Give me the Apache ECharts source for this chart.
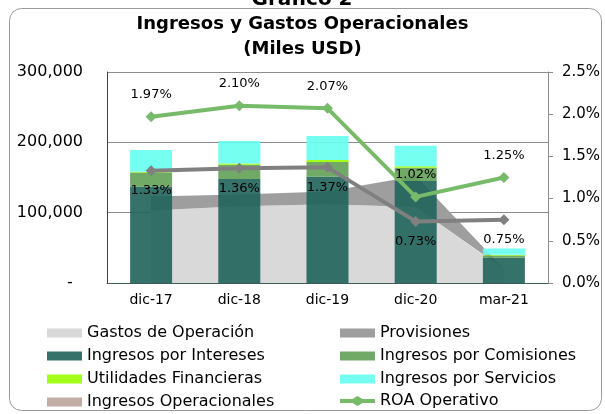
<!DOCTYPE html>
<html>
<head>
<meta charset="utf-8">
<script src="https://cdn.jsdelivr.net/npm/echarts@6/dist/echarts.min.js"></script>
<style>
  html, body { margin: 0; padding: 0; background: #fff; }
  #chart { width: 605px; height: 414px; }
</style>
</head>
<body>
<div id="chart"></div>
<script type="text/javascript">
  // Grafico 2 - Ingresos y Gastos Operacionales

  var categories = ['dic-17', 'dic-18', 'dic-19', 'dic-20', 'mar-21'];

  // Miles USD
  var gastosOperacion = [103000, 109000, 112000, 108000, 19000];
  var provisiones = [20000, 17000, 18000, 44000, 1000];
  var ingresosIntereses = [137000, 148000, 151000, 145000, 36000];
  var ingresosComisiones = [20000, 20000, 21000, 19000, 3000];
  var utilidadesFinancieras = [1000, 2000, 3000, 2000, 1000];
  var ingresosServicios = [31000, 32000, 34000, 29000, 9000];
  var ingresosOperacionales = [];

  // %
  var roaOperativo = [1.97, 2.10, 2.07, 1.02, 1.25];
  var serieGris = [1.33, 1.36, 1.37, 0.73, 0.75];

  var leftTicks = { min: 0, max: 300000, interval: 100000 };
  var rightTicks = { min: 0, max: 2.5, interval: 0.5 };

  // legend order: two columns, four rows
  var legendCol1 = ['Gastos de Operación', 'Ingresos por Intereses', 'Utilidades Financieras', 'Ingresos Operacionales'];
  var legendCol2 = ['Provisiones', 'Ingresos por Comisiones', 'Ingresos por Servicios', 'ROA Operativo'];

  var FONT = 'DejaVu Sans';
  // thick line with a diamond in the middle, like the Excel legend key
  var LINE_ICON = 'path://M0,3H12.5L17.5,0L22.5,3H35V7H22.5L17.5,10L12.5,7H0Z';

  var myChart = echarts.init(document.getElementById('chart'));

  function barSeries(name, data, color) {
    return {
      name: name,
      type: 'bar',
      stack: 'ingresos',
      barWidth: 42,
      z: 2,
      itemStyle: { color: color, opacity: 0.9 },
      data: data
    };
  }

  function areaSeries(name, data, color) {
    return {
      name: name,
      type: 'line',
      stack: 'gastos',
      z: 1,
      symbol: 'none',
      lineStyle: { width: 0 },
      itemStyle: { color: color },
      areaStyle: { color: color, opacity: 1 },
      data: data
    };
  }

  function pctLine(name, data, color, labelPos, dist) {
    return {
      name: name,
      type: 'line',
      yAxisIndex: 1,
      z: 5,
      symbol: 'diamond',
      symbolSize: 11,
      lineStyle: { width: 4, color: color },
      itemStyle: { color: color },
      label: {
        show: true,
        position: labelPos,
        distance: dist,
        color: '#000',
        fontFamily: FONT,
        fontSize: 13,
        formatter: function (p) { return p.value.toFixed(2) + '%'; }
      },
      data: data
    };
  }

  // one legend per item so the grid of entries stays fixed
  var legends = [];
  [legendCol1, legendCol2].forEach(function (col, c) {
    col.forEach(function (name, r) {
      var isLine = name === 'ROA Operativo';
      legends.push({
        left: c === 0 ? 42 : 335,
        top: isLine ? 320 + r * 23 - 1 : 320 + r * 23,
        itemWidth: 35,
        itemHeight: isLine ? 11 : 9,
        textStyle: { fontFamily: FONT, fontSize: 16, color: '#000' },
        data: [{ name: name, icon: isLine ? LINE_ICON : 'rect' }]
      });
    });
  });

  var option = {
    animation: false,
    graphic: [
      {
        type: 'rect',
        shape: { x: 9.5, y: 8.5, width: 592, height: 402, r: 12 },
        style: { fill: 'none', stroke: '#9a9a9a', lineWidth: 1 },
        z: 0
      },
      {
        type: 'text',
        x: 302, y: 10,
        style: {
          text: 'Gráfico 2', font: 'bold 20px "DejaVu Sans"', fill: '#000',
          align: 'center', verticalAlign: 'bottom'
        }
      }
    ],
    title: {
      text: 'Ingresos y Gastos Operacionales\n(Miles USD)',
      left: 'center',
      top: 7,
      textStyle: { fontFamily: FONT, fontSize: 18, fontWeight: 'bold', color: '#000', lineHeight: 25 }
    },
    legend: legends,
    grid: { left: 107, right: 57, top: 72, bottom: 131 },
    xAxis: {
      type: 'category',
      data: categories,
      boundaryGap: true,
      axisLine: { lineStyle: { color: '#3c5c58', width: 1 } },
      axisTick: { show: false },
      axisLabel: { fontFamily: FONT, fontSize: 14, color: '#000', margin: 10 }
    },
    yAxis: [
      {
        type: 'value',
        min: leftTicks.min,
        max: leftTicks.max,
        interval: leftTicks.interval,
        axisLine: { show: true, lineStyle: { color: '#404040', width: 1 } },
        axisTick: { show: false },
        splitLine: { lineStyle: { color: '#8c8c8c', width: 1 } },
        axisLabel: {
          fontFamily: FONT, fontSize: 16, color: '#000', margin: 24,
          formatter: function (v) { return v === 0 ? '-  ' : v.toLocaleString('en-US'); }
        }
      },
      {
        type: 'value',
        position: 'right',
        min: rightTicks.min,
        max: rightTicks.max,
        interval: rightTicks.interval,
        axisLine: { show: true, lineStyle: { color: '#8c8c8c', width: 1 } },
        axisTick: { show: true, length: 5, lineStyle: { color: '#8c8c8c' } },
        splitLine: { show: false },
        axisLabel: {
          fontFamily: FONT, fontSize: 15, color: '#000', margin: 14,
          formatter: function (v) { return v.toFixed(1) + '%'; }
        }
      }
    ],
    series: [
      areaSeries('Gastos de Operación', gastosOperacion, '#d9d9d9'),
      areaSeries('Provisiones', provisiones, '#9e9e9e'),
      barSeries('Ingresos por Intereses', ingresosIntereses, '#1f6359'),
      barSeries('Ingresos por Comisiones', ingresosComisiones, '#62a055'),
      barSeries('Utilidades Financieras', utilidadesFinancieras, '#99ff00'),
      barSeries('Ingresos por Servicios', ingresosServicios, '#66fff0'),
      barSeries('Ingresos Operacionales', ingresosOperacionales, '#baa39c'),
      pctLine('ROA Operativo', roaOperativo, '#77bb6a', 'top', 10),
      pctLine('Serie gris', serieGris, '#808080', 'bottom', 8)
    ]
  };

  myChart.setOption(option);

  window.onresize = function () {
    myChart.resize();
  };
</script>
</body>
</html>
